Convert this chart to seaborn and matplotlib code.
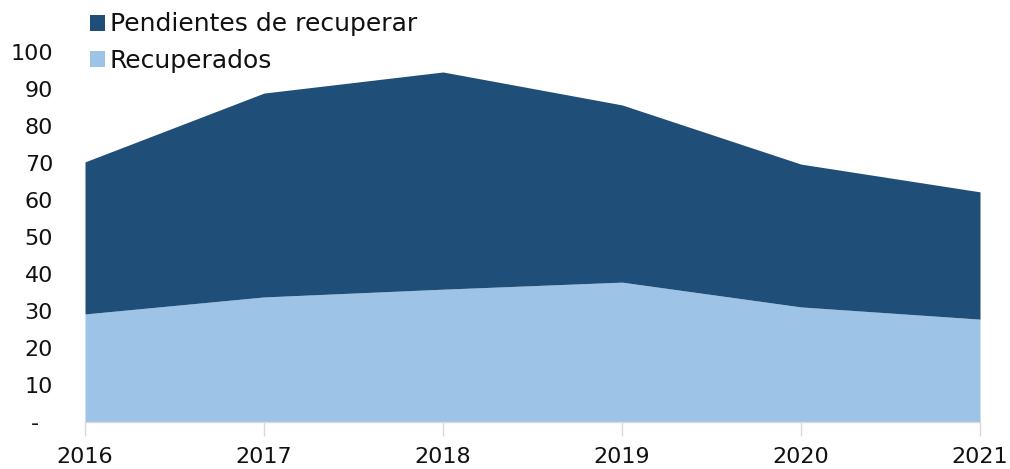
import matplotlib
matplotlib.use("Agg")
import matplotlib.pyplot as plt
import seaborn as sns
import pandas as pd
from matplotlib.patches import Patch

years = [2016, 2017, 2018, 2019, 2020, 2021]
recuperados = [29.2, 33.8, 35.9, 37.8, 31.1, 27.8]
pendientes = [41.1, 55.1, 58.7, 47.9, 38.6, 34.4]
yticks = [0, 10, 20, 30, 40, 50, 60, 70, 80, 90, 100]
ytick_labels = ["-  ", "10", "20", "30", "40", "50", "60", "70", "80", "90", "100"]

df = pd.DataFrame({"year": years, "Recuperados": recuperados,
                   "Pendientes de recuperar": pendientes})

sns.set_theme(style="white")
plt.rcParams["font.family"] = ["DejaVu Sans"]

c_light = "#9DC3E6"
c_dark = "#1F4E79"

fig = plt.figure(figsize=(10.10, 4.69), dpi=100)
ax = fig.add_axes([85/1010, 1 - 422/469, (980 - 85)/1010, (422 - 52)/469])

ax.stackplot(df["year"], df["Recuperados"], df["Pendientes de recuperar"],
             colors=[c_light, c_dark], linewidth=0)

ax.set_xlim(2016, 2021)
ax.set_ylim(0, 100)
ax.set_yticks(yticks)
ax.set_yticklabels(ytick_labels)
ax.set_xticks(years)
ax.set_xticklabels([str(y) for y in years])

for s in ["top", "right", "left"]:
    ax.spines[s].set_visible(False)
ax.spines["bottom"].set_color("#D9D9D9")
ax.spines["bottom"].set_linewidth(1)
ax.tick_params(axis="x", bottom=True, length=10, color="#D9D9D9", width=1,
               labelsize=16, pad=8, labelcolor="#111111")
ax.tick_params(axis="y", left=False, labelsize=16, pad=17, labelcolor="#111111")

handles = [Patch(facecolor=c_dark, edgecolor="none"),
           Patch(facecolor=c_light, edgecolor="none")]
fig.legend(handles, ["Pendientes de recuperar", "Recuperados"],
           loc="upper left", bbox_to_anchor=(77/1010, 1.0), frameon=False,
           fontsize=18, handlelength=0.6, handleheight=0.6, handletextpad=0.2,
           labelspacing=0.5, borderaxespad=0.1, labelcolor="#111111")

fig.savefig("out.png", dpi=100)
